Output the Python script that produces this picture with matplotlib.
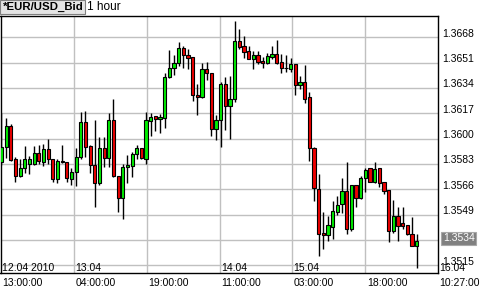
import matplotlib
matplotlib.use("Agg")
import matplotlib.pyplot as plt
from matplotlib.transforms import offset_copy, blended_transform_factory

plt.rcParams['font.family'] = ['Liberation Sans', 'DejaVu Sans']

# ---------------- data (EUR/USD Bid, 1 hour candles) ----------------
opens = [1.35843, 1.35944, 1.36085, 1.35863, 1.35749, 1.35803, 1.35830, 1.35828, 1.35906, 1.35845,
         1.35928, 1.35861, 1.35727, 1.35850, 1.35841, 1.35727, 1.35774, 1.35875, 1.36110, 1.35950,
         1.35823, 1.35704, 1.35935, 1.35868, 1.36125, 1.35749, 1.35604, 1.35808, 1.35818, 1.35895,
         1.35939, 1.35863, 1.36120, 1.36152, 1.36134, 1.36138, 1.36416, 1.36472, 1.36510, 1.36606,
         1.36558, 1.36546, 1.36293, 1.36279, 1.36465, 1.36438, 1.36063, 1.36123, 1.36365, 1.36222,
         1.36264, 1.36655, 1.36622, 1.36588, 1.36536, 1.36559, 1.36521, 1.36506, 1.36550, 1.36567,
         1.36514, 1.36477, 1.36469, 1.36499, 1.36357, 1.36377, 1.36276, 1.35939, 1.35664, 1.35365,
         1.35351, 1.35409, 1.35510, 1.35559, 1.35648, 1.35391, 1.35689, 1.35599, 1.35734, 1.35801,
         1.35711, 1.35801, 1.35707, 1.35655, 1.35382, 1.35481, 1.35432, 1.35420, 1.35358, 1.35281]
highs = [1.36172, 1.36138, 1.36098, 1.35877, 1.35863, 1.35950, 1.35883, 1.35950, 1.35957, 1.35964,
         1.35997, 1.35863, 1.35863, 1.35957, 1.35843, 1.35803, 1.35937, 1.36179, 1.36185, 1.35957,
         1.36125, 1.36013, 1.36013, 1.36174, 1.36266, 1.35749, 1.35830, 1.35890, 1.35912, 1.35957,
         1.35939, 1.36181, 1.36170, 1.36152, 1.36165, 1.36440, 1.36595, 1.36561, 1.36648, 1.36620,
         1.36599, 1.36548, 1.36367, 1.36510, 1.36513, 1.36438, 1.36159, 1.36380, 1.36414, 1.36417,
         1.36789, 1.36734, 1.36689, 1.36622, 1.36591, 1.36588, 1.36548, 1.36575, 1.36620, 1.36662,
         1.36568, 1.36559, 1.36544, 1.36499, 1.36417, 1.36493, 1.36313, 1.35946, 1.35761, 1.35508,
         1.35481, 1.35581, 1.35615, 1.35738, 1.35843, 1.35689, 1.35689, 1.35749, 1.35801, 1.35801,
         1.35841, 1.35801, 1.35707, 1.35655, 1.35588, 1.35543, 1.35543, 1.35420, 1.35472, 1.35360]
lows = [1.35823, 1.35870, 1.35850, 1.35706, 1.35742, 1.35769, 1.35763, 1.35823, 1.35830, 1.35816,
        1.35830, 1.35711, 1.35704, 1.35836, 1.35709, 1.35689, 1.35682, 1.35863, 1.35879, 1.35766,
        1.35539, 1.35689, 1.35812, 1.35812, 1.35744, 1.35510, 1.35459, 1.35700, 1.35744, 1.35861,
        1.35861, 1.35830, 1.36018, 1.36053, 1.36038, 1.36069, 1.36407, 1.36427, 1.36487, 1.36476,
        1.36465, 1.36252, 1.36159, 1.36275, 1.36393, 1.36018, 1.35994, 1.35946, 1.36058, 1.35995,
        1.36246, 1.36601, 1.36541, 1.36532, 1.36465, 1.36499, 1.36474, 1.36499, 1.36532, 1.36504,
        1.36442, 1.36444, 1.36447, 1.36295, 1.36334, 1.36237, 1.35853, 1.35581, 1.35212, 1.35261,
        1.35313, 1.35328, 1.35485, 1.35503, 1.35358, 1.35382, 1.35543, 1.35593, 1.35644, 1.35709,
        1.35700, 1.35673, 1.35628, 1.35308, 1.35369, 1.35315, 1.35391, 1.35353, 1.35281, 1.35134]
closes = [1.35944, 1.36085, 1.35857, 1.35751, 1.35803, 1.35863, 1.35865, 1.35906, 1.35850, 1.35928,
          1.35861, 1.35727, 1.35850, 1.35840, 1.35734, 1.35778, 1.35875, 1.36110, 1.35946, 1.35823,
          1.35704, 1.35935, 1.35868, 1.36125, 1.35749, 1.35604, 1.35812, 1.35823, 1.35897, 1.35939,
          1.35868, 1.36125, 1.36147, 1.36134, 1.36147, 1.36416, 1.36472, 1.36510, 1.36606, 1.36558,
          1.36543, 1.36291, 1.36279, 1.36465, 1.36438, 1.36063, 1.36123, 1.36365, 1.36222, 1.36264,
          1.36655, 1.36617, 1.36583, 1.36536, 1.36559, 1.36514, 1.36506, 1.36552, 1.36567, 1.36510,
          1.36476, 1.36472, 1.36499, 1.36357, 1.36377, 1.36268, 1.35940, 1.35671, 1.35358, 1.35353,
          1.35418, 1.35514, 1.35552, 1.35648, 1.35391, 1.35689, 1.35599, 1.35734, 1.35789, 1.35711,
          1.35794, 1.35704, 1.35650, 1.35382, 1.35481, 1.35416, 1.35416, 1.35358, 1.35281, 1.35313]

price_ticks = [1.3515, 1.3532, 1.3549, 1.3566, 1.3583, 1.3600, 1.3617, 1.3634, 1.3651, 1.3668]
price_labels = ['1.3515', '', '1.3549', '1.3566', '1.3583', '1.3600', '1.3617', '1.3634', '1.3651', '1.3668']
current_price = 1.3534
current_label = '1.3534'

time_labels = ['13:00:00', '04:00:00', '19:00:00', '11:00:00', '03:00:00', '18:00:00', '10:27:00']
day_labels = ['12.04 2010', '13.04', '', '14.04', '15.04', '', '16.04']
title_symbol = '*EUR/USD_Bid'
title_period = '1 hour'

# ---------------- layout ----------------
W, H = 484, 290
fig = plt.figure(figsize=(W / 100, H / 100), dpi=100)
fig.patch.set_facecolor('white')
ax = fig.add_axes([0.5 / W, 17.3 / H, 437.5 / W, 256.7 / H])
ax.set_facecolor('white')

xs = list(range(len(opens)))
label_pos = [-0.21, 15.48, 31.2, 46.75, 62.38, 78.0, 93.58]   # candle-index units
ax.set_xlim(-0.21, 93.58)
ax.set_ylim(1.35100, 1.36823)

ax.set_xticks(label_pos[1:-1])
ax.set_yticks(price_ticks)
ax.grid(True, color='#c0c0c0', linewidth=1.0)
ax.set_axisbelow(True)
ax.tick_params(length=0, labelleft=False, labelbottom=False)
for s in ax.spines.values():
    s.set_color('black')
    s.set_linewidth(1.0)

# candles
up = [c >= o for o, c in zip(opens, closes)]
colors = ['#00ee00' if u else '#ee0000' for u in up]
ax.vlines(xs, lows, highs, color='black', linewidth=1.0, zorder=2)
bottoms = [min(o, c) for o, c in zip(opens, closes)]
heights = [max(abs(c - o), 0.00002) for o, c in zip(opens, closes)]
ax.bar(xs, heights, bottom=bottoms, width=0.68, color=colors,
       edgecolor='black', linewidth=0.8, zorder=3)

fs = 7.5
# price labels on right
tr_y = blended_transform_factory(ax.transAxes, ax.transData)
tr_y = offset_copy(tr_y, fig=fig, x=4.5, y=0.6, units='dots')
for v, lab in zip(price_ticks, price_labels):
    if lab:
        ax.text(1.0, v, lab, transform=tr_y, ha='left', va='baseline',
                fontsize=fs, color='black', clip_on=False)
tr_c = offset_copy(blended_transform_factory(ax.transAxes, ax.transData),
                   fig=fig, x=5, y=-1.2, units='dots')
ax.text(1.0, current_price, current_label, transform=tr_c, ha='left', va='center',
        fontsize=fs, color='white', clip_on=False,
        bbox=dict(boxstyle='square,pad=0.15', facecolor='#808080', edgecolor='#a8a8a8', linewidth=0.8))

# time labels below axis
tr_b = offset_copy(blended_transform_factory(ax.transData, ax.transAxes),
                   fig=fig, x=1.5, y=-13.5, units='dots')
for p, lab in zip(label_pos, time_labels):
    ax.text(p, 0, lab, transform=tr_b, ha='left', va='baseline', fontsize=fs,
            color='black', clip_on=False)
# day labels inside bottom
tr_d = offset_copy(blended_transform_factory(ax.transData, ax.transAxes),
                   fig=fig, x=1.2, y=2.0, units='dots')
for p, lab in zip(label_pos, day_labels):
    if lab:
        ax.text(p, 0, lab, transform=tr_d, ha='left', va='baseline', fontsize=fs,
                color='black', clip_on=False, zorder=5)

# title
fig.text(2.5 / W, 1 - 7.3 / H, title_symbol, fontsize=8.2, fontweight='bold', ha='left',
         va='center', color='black',
         bbox=dict(boxstyle='square,pad=0.18', facecolor='#e4e4e4', edgecolor='#808080', linewidth=0.8))
fig.text(87 / W, 1 - 7.3 / H, title_period, fontsize=8.6, ha='left', va='center', color='black')

fig.savefig('out.png', dpi=100, facecolor='white')
